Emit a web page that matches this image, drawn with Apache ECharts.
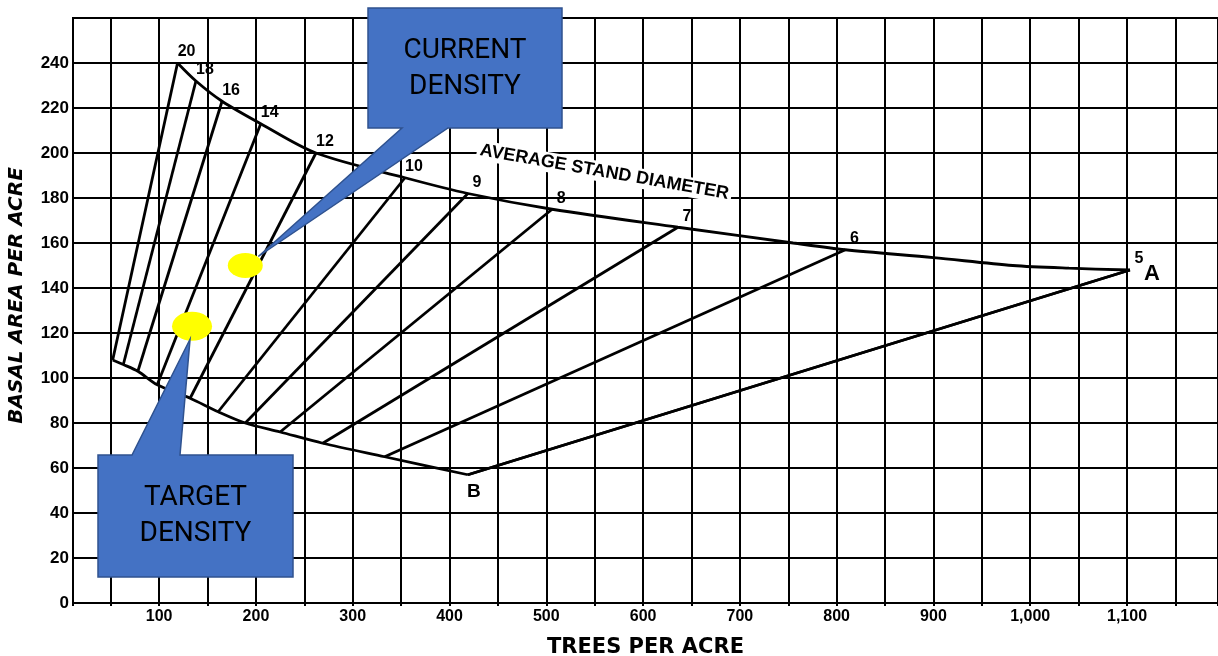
<!DOCTYPE html>
<html><head><meta charset="utf-8">
<script src="https://cdn.jsdelivr.net/npm/echarts@6/dist/echarts.min.js"></script>
<style>html,body{margin:0;padding:0;background:#fff}#c{width:1218px;height:656px}</style>
</head><body><div id="c"></div>
<script>
// ---- data (trees per acre, basal area per acre) ----
const diameterLabels = ['20','18','16','14','12','10','9','8','7','6','5'];
const upperTrees = [119,138,165,205,262,354,419,506,636,809,1103];
const upperBA    = [240,232,223,213,200,189,182,175,167,157,148];
const lowerTrees = [52,63,78,98,132,161,189,225,269,333,419];
const lowerBA    = [108,106,103,97,91,85,80,76,71,65,57];
// extra traced points on the upper (A) curve between diameter 7 and 5
const upperExtraTrees = [755,900,982,1040];
const upperExtraBA    = [160,153.5,150,148.8];
const pointA = [1103,148];
const pointB = [419,57];
const currentDensity = [189,150];
const targetDensity  = [134,123];
const curveTitleAnchor = [560,191.5];
const xLabelValues = [100,200,300,400,500,600,700,800,900,1000,1100];
const yTicks = [0,20,40,60,80,100,120,140,160,180,200,220,240];

const BLACK = '#000';
const upperCurve = upperTrees.map((t,i)=>[t,upperBA[i]])
  .concat(upperExtraTrees.map((t,i)=>[t,upperExtraBA[i]]))
  .sort((a,b)=>a[0]-b[0]);
const lowerCurve = lowerTrees.map((t,i)=>[t,lowerBA[i]]);

function fmtTrees(v){
  if (xLabelValues.indexOf(Math.round(v)) < 0 || Math.abs(v-Math.round(v))>1e-6) return '';
  v = Math.round(v);
  return v >= 1000 ? Math.floor(v/1000)+','+String(v%1000).padStart(3,'0') : String(v);
}
const noBorder = {textBorderWidth:0, textBorderColor:'transparent', textShadowBlur:0, opacity:1};
const solid = {opacity:1};

const series = [];
// diameter lines
upperTrees.forEach((t,i)=>{
  series.push({type:'line', data:[[t,upperBA[i]],[lowerTrees[i],lowerBA[i]]], symbol:'none',
    lineStyle:{color:BLACK,width:2.8}, silent:true, z:3});
});
series.push({type:'line', name:'upper', data:upperCurve, smooth:0.3, symbol:'none', lineStyle:{color:BLACK,width:2.8}, z:3});
series.push({type:'line', name:'lower', data:lowerCurve, smooth:0.3, symbol:'none', lineStyle:{color:BLACK,width:2.8}, z:3});
series.push({type:'line', name:'BA', data:[pointB,pointA], symbol:'none', lineStyle:{color:BLACK,width:2.8}, z:3});
// diameter labels
series.push({type:'scatter', data:upperTrees.map((t,i)=>[t,upperBA[i]]), symbolSize:0, z:4, itemStyle:solid,
  label:Object.assign({show:true, position:'inside', offset:[9,-11], formatter:p=>diameterLabels[p.dataIndex],
    color:BLACK, fontFamily:'Liberation Sans', fontWeight:'bold', fontSize:16}, noBorder)});
series.push({type:'scatter', data:[pointA], symbolSize:0, z:4, itemStyle:solid,
  label:Object.assign({show:true, position:'inside', offset:[22,4], formatter:'A', color:BLACK, fontFamily:'Liberation Sans', fontWeight:'bold', fontSize:22}, noBorder)});
series.push({type:'scatter', data:[pointB], symbolSize:0, z:4, itemStyle:solid,
  label:Object.assign({show:true, position:'inside', offset:[6,17], formatter:'B', color:BLACK, fontFamily:'Liberation Sans', fontWeight:'bold', fontSize:19}, noBorder)});
series.push({type:'scatter', data:[curveTitleAnchor], symbolSize:0, z:2, itemStyle:solid,
  label:Object.assign({show:true, position:'inside', rotate:-10, formatter:'AVERAGE STAND DIAMETER', color:BLACK,
    fontFamily:'Liberation Sans', fontWeight:'bold', fontSize:18, backgroundColor:'#fff', padding:[1,3]}, noBorder)});
// density ellipses
series.push({type:'scatter', data:[currentDensity], symbol:'circle', symbolSize:[35,25], itemStyle:{color:'#FFFF00', opacity:1}, z:5});
series.push({type:'scatter', data:[targetDensity], symbol:'circle', symbolSize:[40,29], itemStyle:{color:'#FFFF00', opacity:1}, z:5});

const option = {
  animation:false,
  backgroundColor:'#fff',
  grid:{left:73, right:0, top:18, bottom:53, containLabel:false, outerBoundsMode:'none',
    show:true, borderColor:BLACK, borderWidth:2},
  xAxis:{type:'value', min:11, max:1194, splitNumber:24, minInterval:50, maxInterval:50,
    axisLine:{show:true, onZero:false, lineStyle:{color:BLACK,width:2}},
    axisTick:{show:true, length:3, lineStyle:{color:BLACK,width:2}},
    splitLine:{show:true, lineStyle:{color:BLACK,width:2}},
    axisLabel:{formatter:fmtTrees, color:BLACK, fontFamily:'Liberation Sans', fontWeight:'bold', fontSize:16, margin:6, hideOverlap:false},
    name:'TREES PER ACRE', nameLocation:'middle', nameGap:34,
    nameTextStyle:{color:BLACK, fontFamily:'DejaVu Sans', fontWeight:'bold', fontSize:21}},
  yAxis:{type:'value', min:0, max:260, interval:20,
    axisLine:{show:true, onZero:false, lineStyle:{color:BLACK,width:2}},
    axisTick:{show:false},
    splitLine:{show:true, lineStyle:{color:BLACK,width:2}},
    axisLabel:{formatter:v=> yTicks.indexOf(v)>=0 ? String(v) : '', color:BLACK, fontFamily:'Liberation Sans', fontWeight:'bold', fontSize:17, margin:4},
    name:'BASAL AREA PER ACRE', nameLocation:'middle', nameGap:46,
    nameTextStyle:{color:BLACK, fontFamily:'DejaVu Sans', fontWeight:'bold', fontStyle:'italic', fontSize:20, padding:[0,0,0,30]}},
  series:series
};
const chart = echarts.init(document.getElementById('c'));
chart.setOption(option);

// callouts
const cTip = chart.convertToPixel({gridIndex:0}, currentDensity);
const tTip = chart.convertToPixel({gridIndex:0}, targetDensity);
const cBox = {l:368,t:8,r:562,b:128,w1:402,w2:448};
const tBox = {l:98,t:455,r:293,b:577,w1:132,w2:180};
const ct = [cTip[0]+13, cTip[1]-9];
const tt = [tTip[0]-2, tTip[1]+13];
const boxStyle = {fill:'#4472C4', stroke:'#2F528F', lineWidth:1.5};
const txtStyle = {fill:'#000', fontFamily:'Roboto', fontSize:28, lineHeight:36, align:'center', verticalAlign:'middle'};
chart.setOption({graphic:[
  {type:'polygon', z:100, shape:{points:[[cBox.l,cBox.t],[cBox.r,cBox.t],[cBox.r,cBox.b],[cBox.w2,cBox.b],ct,[cBox.w1,cBox.b],[cBox.l,cBox.b]]}, style:boxStyle},
  {type:'text', z:101, x:(cBox.l+cBox.r)/2, y:(cBox.t+cBox.b)/2+1, style:Object.assign({text:'CURRENT\nDENSITY'}, txtStyle)},
  {type:'polygon', z:100, shape:{points:[[tBox.l,tBox.t],[tBox.w1,tBox.t],tt,[tBox.w2,tBox.t],[tBox.r,tBox.t],[tBox.r,tBox.b],[tBox.l,tBox.b]]}, style:boxStyle},
  {type:'text', z:101, x:(tBox.l+tBox.r)/2, y:(tBox.t+tBox.b)/2, style:Object.assign({text:'TARGET\nDENSITY'}, txtStyle)}
]});
</script></body></html>
